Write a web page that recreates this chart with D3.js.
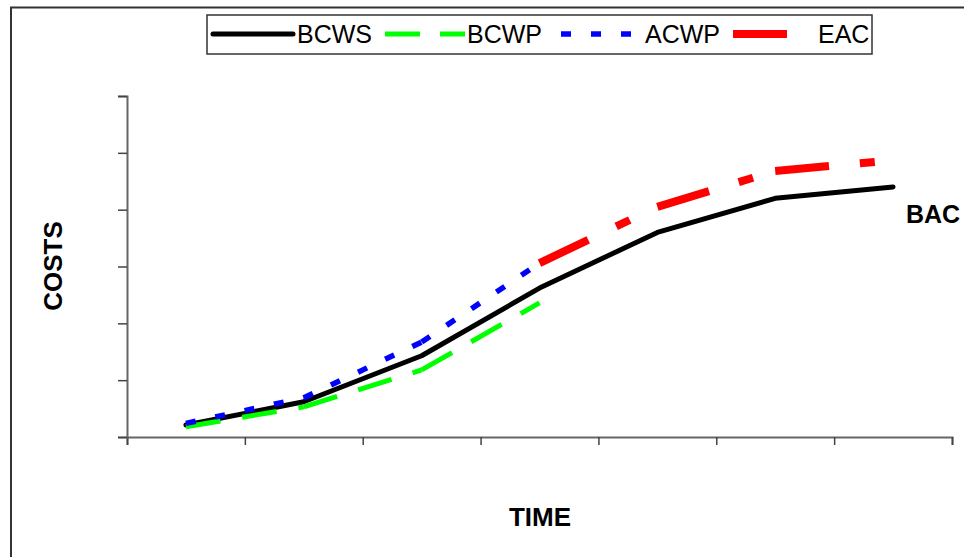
<!DOCTYPE html>
<html>
<head>
<meta charset="utf-8">
<script src="https://cdn.jsdelivr.net/npm/d3@7"></script>
<style>
  body { margin: 0; background: #fff; }
  svg { display: block; font-family: "Liberation Sans", Arial, sans-serif; }
</style>
</head>
<body>
<div id="chart"></div>
<script>
// time periods (categories) and cost series
var periods = [1, 2, 3, 4, 5, 6, 7];
var bcws = [2.1, 6.2, 14.3, 26.2, 36.0, 42.0, 44.0];
var bcwp = [1.8, 5.3, 11.8, 23.6];
var acwp = [2.4, 6.9, 16.7, 30.6];
var eacPeriods = [4, 5, 6, 7];
var eac = [30.6, 40.5, 46.8, 48.7];
var yTicks = [0, 10, 20, 30, 40, 50, 60];

var width = 964, height = 557;

var svg = d3.select("#chart")
    .append("svg")
    .attr("width", width)
    .attr("height", height);

// outer chart frame
svg.append("rect")
    .attr("x", 11).attr("y", 7.5)
    .attr("width", 1000).attr("height", 600)
    .attr("fill", "none")
    .attr("stroke", "#333")
    .attr("stroke-width", 2);

// scales: categories sit between axis ticks
var xAxisScale = d3.scaleLinear().domain([0, periods.length]).range([127, 952]);
var x = function(p) { return xAxisScale(p - 0.5); };
var y = d3.scaleLinear().domain([0, 60]).range([437, 96]);

// axes
svg.append("g")
    .attr("transform", "translate(0,437)")
    .call(d3.axisBottom(xAxisScale).ticks(periods.length).tickFormat("").tickSizeOuter(0).tickSize(8))
    .call(function(g) {
        g.select(".domain").attr("stroke", "#666").attr("stroke-width", 2);
        g.selectAll(".tick line").attr("stroke", "#444").attr("stroke-width", 1.5);
    });

svg.append("g")
    .attr("transform", "translate(127,0)")
    .call(d3.axisLeft(y).tickValues(yTicks).tickFormat("").tickSizeOuter(0).tickSize(9))
    .call(function(g) {
        g.select(".domain").attr("stroke", "#666").attr("stroke-width", 2);
        g.selectAll(".tick line").attr("stroke", "#444").attr("stroke-width", 1.5);
    });

// Excel restarts the dash pattern on every segment, so draw segment by segment
function drawSeries(xs, ys, color, w, dash, cap) {
    var pts = xs.map(function(p, i) { return [x(p), y(ys[i])]; });
    if (!dash) {
        svg.append("path")
            .attr("d", d3.line()(pts))
            .attr("fill", "none")
            .attr("stroke", color)
            .attr("stroke-width", w)
            .attr("stroke-linejoin", "round")
            .attr("stroke-linecap", cap || "butt");
        return;
    }
    var segs = d3.pairs(pts);
    svg.append("g").selectAll("path")
        .data(segs)
        .enter().append("path")
        .attr("d", function(d) { return d3.line()(d); })
        .attr("fill", "none")
        .attr("stroke", color)
        .attr("stroke-width", w)
        .attr("stroke-dasharray", dash);
}

drawSeries(periods, bcws, "#000", 5, null, "round");
drawSeries(periods.slice(0, bcwp.length), bcwp, "#00ff00", 5, "35,22");
drawSeries(periods.slice(0, acwp.length), acwp, "#0000ff", 5.5, "10,20");
drawSeries(eacPeriods, eac, "#ff0000", 8, "54,31,15,31");

// BAC label (kept just inside the right edge)
svg.append("text")
    .attr("x", 906).attr("y", 223)
    .attr("font-size", 25).attr("font-weight", "bold")
    .text("BAC");

// axis titles
svg.append("text")
    .attr("transform", "translate(62,266) rotate(-90)")
    .attr("text-anchor", "middle")
    .attr("font-size", 26).attr("font-weight", "bold")
    .text("COSTS");

svg.append("text")
    .attr("x", 540).attr("y", 526)
    .attr("text-anchor", "middle")
    .attr("font-size", 26).attr("font-weight", "bold")
    .text("TIME");

// legend
var legendItems = [
    { name: "BCWS", color: "#000", w: 5, dash: null, x0: 213, tx: 297 },
    { name: "BCWP", color: "#00ff00", w: 5, dash: "35,20", x0: 385, tx: 467 },
    { name: "ACWP", color: "#0000ff", w: 5.5, dash: "10,20", x0: 561, tx: 645 },
    { name: "EAC", color: "#ff0000", w: 8, dash: "54,80", x0: 733, tx: 818 }
];

svg.append("rect")
    .attr("x", 207).attr("y", 15)
    .attr("width", 665).attr("height", 39)
    .attr("fill", "#fff")
    .attr("stroke", "#333")
    .attr("stroke-width", 1.5);

var lg = svg.selectAll(".legend")
    .data(legendItems)
    .enter().append("g")
    .attr("class", "legend");

lg.append("line")
    .attr("x1", function(d) { return d.x0; })
    .attr("x2", function(d) { return d.x0 + 80; })
    .attr("y1", 34).attr("y2", 34)
    .attr("stroke", function(d) { return d.color; })
    .attr("stroke-width", function(d) { return d.w; })
    .attr("stroke-linecap", function(d) { return d.dash ? "butt" : "round"; })
    .attr("stroke-dasharray", function(d) { return d.dash; });

lg.append("text")
    .attr("x", function(d) { return d.tx; })
    .attr("y", 43)
    .attr("font-size", 25)
    .text(function(d) { return d.name; });
</script>
</body>
</html>
